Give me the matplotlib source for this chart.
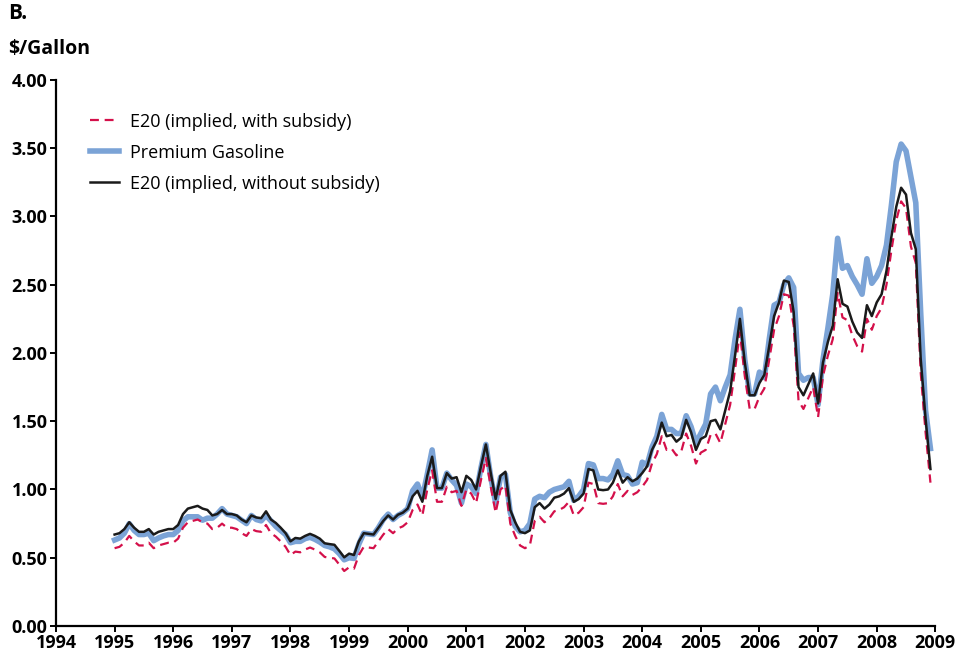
import numpy as np
import matplotlib
matplotlib.use("Agg")
from matplotlib import pyplot as plt

plt.rcParams['font.family'] = ['Open Sans', 'DejaVu Sans']

# monthly prices, Jan 1995 .. Dec 2008 ($/gallon)
start_year = 1995

e20_with_subsidy = [
    0.57, 0.58, 0.61, 0.66, 0.62, 0.59, 0.59, 0.61, 0.57, 0.59, 0.60, 0.61,
    0.61, 0.64, 0.72, 0.76, 0.77, 0.78, 0.76, 0.75, 0.71, 0.72, 0.75, 0.72,
    0.72, 0.71, 0.68, 0.66, 0.71, 0.695, 0.69, 0.74, 0.68, 0.655, 0.62, 0.58,
    0.52, 0.545, 0.54, 0.56, 0.575, 0.56, 0.54, 0.506, 0.50, 0.495, 0.45, 0.403,
    0.43, 0.42, 0.52, 0.58, 0.575, 0.57, 0.62, 0.67, 0.71, 0.68, 0.715, 0.73,
    0.76, 0.85, 0.89, 0.81, 1.00, 1.14, 0.91, 0.91, 1.02, 0.98, 0.99, 0.88,
    1.00, 0.97, 0.90, 1.07, 1.23, 1.02, 0.83, 1.00, 1.03, 0.75, 0.66, 0.59,
    0.57, 0.59, 0.77, 0.80, 0.76, 0.79, 0.84, 0.85, 0.87, 0.91, 0.81, 0.83,
    0.87, 1.05, 1.04, 0.90, 0.895, 0.90, 0.95, 1.04, 0.95, 0.99, 0.96, 0.98,
    1.02, 1.07, 1.19, 1.26, 1.39, 1.29, 1.30, 1.25, 1.28, 1.41, 1.32, 1.19,
    1.27, 1.29, 1.40, 1.41, 1.34, 1.48, 1.62, 1.88, 2.15, 1.83, 1.59, 1.59,
    1.68, 1.74, 1.95, 2.17, 2.27, 2.43, 2.42, 2.20, 1.65, 1.59, 1.67, 1.75,
    1.53, 1.83, 1.98, 2.10, 2.44, 2.26, 2.24, 2.13, 2.05, 2.01, 2.25, 2.17,
    2.27, 2.33, 2.50, 2.75, 2.97, 3.11, 3.06, 2.78, 2.66, 1.86, 1.42, 1.05,
]

premium_gasoline = [
    0.63, 0.645, 0.68, 0.75, 0.70, 0.67, 0.67, 0.68, 0.625, 0.645, 0.66, 0.67,
    0.67, 0.70, 0.77, 0.80, 0.80, 0.80, 0.775, 0.79, 0.79, 0.82, 0.86, 0.82,
    0.81, 0.80, 0.775, 0.75, 0.81, 0.78, 0.77, 0.81, 0.77, 0.73, 0.70, 0.67,
    0.61, 0.62, 0.62, 0.64, 0.65, 0.635, 0.615, 0.59, 0.58, 0.565, 0.53, 0.485,
    0.50, 0.495, 0.60, 0.68, 0.675, 0.67, 0.72, 0.78, 0.82, 0.78, 0.81, 0.83,
    0.86, 0.99, 1.04, 0.94, 1.11, 1.29, 1.01, 1.01, 1.12, 1.07, 1.03, 0.90,
    1.04, 1.02, 0.97, 1.16, 1.33, 1.09, 0.90, 1.09, 1.11, 0.83, 0.73, 0.69,
    0.70, 0.75, 0.93, 0.95, 0.94, 0.98, 1.00, 1.01, 1.02, 1.06, 0.92, 0.95,
    1.00, 1.19, 1.18, 1.08, 1.08, 1.07, 1.11, 1.21, 1.11, 1.10, 1.04, 1.05,
    1.20, 1.18, 1.31, 1.39, 1.55, 1.44, 1.44, 1.41, 1.41, 1.54, 1.46, 1.34,
    1.41, 1.48, 1.70, 1.75, 1.65, 1.75, 1.84, 2.10, 2.32, 1.95, 1.70, 1.70,
    1.86, 1.82, 2.10, 2.35, 2.37, 2.50, 2.55, 2.48, 1.85, 1.80, 1.82, 1.82,
    1.62, 1.95, 2.18, 2.43, 2.84, 2.62, 2.64, 2.56, 2.50, 2.43, 2.69, 2.51,
    2.56, 2.64, 2.79, 3.08, 3.40, 3.53, 3.48, 3.29, 3.10, 2.30, 1.58, 1.30,
]

e20_without_subsidy = [
    0.67, 0.68, 0.71, 0.76, 0.72, 0.69, 0.69, 0.71, 0.67, 0.69, 0.70, 0.71,
    0.71, 0.74, 0.82, 0.86, 0.87, 0.88, 0.86, 0.85, 0.81, 0.82, 0.85, 0.82,
    0.82, 0.81, 0.78, 0.76, 0.81, 0.795, 0.79, 0.84, 0.78, 0.755, 0.72, 0.68,
    0.62, 0.645, 0.64, 0.66, 0.675, 0.66, 0.64, 0.606, 0.60, 0.595, 0.55, 0.503,
    0.53, 0.52, 0.62, 0.68, 0.675, 0.67, 0.72, 0.77, 0.81, 0.78, 0.815, 0.83,
    0.86, 0.95, 0.99, 0.91, 1.10, 1.24, 1.01, 1.01, 1.12, 1.08, 1.09, 0.98,
    1.10, 1.07, 1.00, 1.17, 1.33, 1.12, 0.93, 1.10, 1.13, 0.85, 0.76, 0.69,
    0.68, 0.70, 0.87, 0.90, 0.86, 0.89, 0.94, 0.95, 0.97, 1.01, 0.91, 0.93,
    0.97, 1.15, 1.14, 1.00, 0.995, 1.00, 1.05, 1.14, 1.05, 1.09, 1.06, 1.08,
    1.12, 1.17, 1.29, 1.36, 1.49, 1.39, 1.40, 1.35, 1.38, 1.51, 1.42, 1.29,
    1.37, 1.39, 1.50, 1.51, 1.44, 1.58, 1.72, 1.98, 2.25, 1.93, 1.69, 1.69,
    1.78, 1.84, 2.05, 2.27, 2.37, 2.53, 2.52, 2.30, 1.75, 1.69, 1.77, 1.85,
    1.63, 1.93, 2.08, 2.20, 2.54, 2.36, 2.34, 2.23, 2.15, 2.11, 2.35, 2.27,
    2.37, 2.43, 2.60, 2.85, 3.07, 3.21, 3.16, 2.88, 2.76, 1.96, 1.52, 1.15,
]

year_ticks = list(range(1994, 2010))
y_ticks = [0, 0.5, 1.0, 1.5, 2.0, 2.5, 3.0, 3.5, 4.0]

x = start_year + np.arange(len(e20_without_subsidy)) / 12.0

fig = plt.figure(figsize=(9.6, 6.58), dpi=100)
ax = fig.add_axes([0.0583, 0.0486, 0.916, 0.83])

ax.plot(x, premium_gasoline, color='#7ba3d6', lw=4.0, label='Premium Gasoline', zorder=2,
        solid_joinstyle='round')
ax.plot(x, e20_with_subsidy, color='#d4104a', lw=1.6, dashes=(4, 2.6),
        label='E20 (implied, with subsidy)', zorder=3)
ax.plot(x, e20_without_subsidy, color='#1a1a1a', lw=1.8,
        label='E20 (implied, without subsidy)', zorder=4)

ax.set_xlim(1994, 2009)
ax.set_ylim(0, 4)
ax.set_xticks(year_ticks)
ax.set_yticks(y_ticks)
ax.set_yticklabels(['%.2f' % v for v in y_ticks])
for s in ['top', 'right']:
    ax.spines[s].set_visible(False)
for s in ['left', 'bottom']:
    ax.spines[s].set_linewidth(1.6)
ax.tick_params(axis='both', direction='out', length=4, width=1.4, labelsize=13, pad=2)
for lab in ax.get_xticklabels() + ax.get_yticklabels():
    lab.set_fontweight('bold')

h, l = ax.get_legend_handles_labels()
order = [1, 0, 2]
ax.legend([h[i] for i in order], [l[i] for i in order], loc='upper left',
          bbox_to_anchor=(0.02, 0.97), frameon=False, fontsize=13,
          handlelength=1.6, handletextpad=0.6, labelspacing=0.72)

fig.text(0.008, 0.995, 'B.', fontsize=15, fontweight='bold', va='top')
fig.text(0.008, 0.94, '$/Gallon', fontsize=14, fontweight='bold', va='top')

fig.savefig('out.png', dpi=100)
